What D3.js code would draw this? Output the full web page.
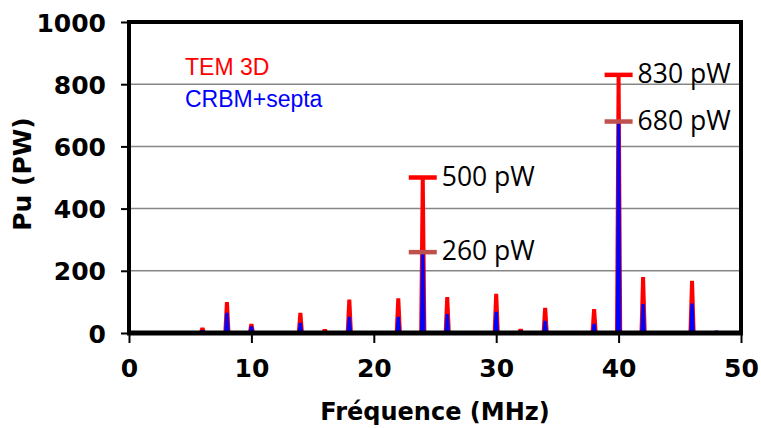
<!DOCTYPE html>
<meta charset="utf-8">
<html>
  <head>
    <style>
      body { margin: 0; background: #fff; }
      .axis text {
        font-family: "DejaVu Sans", Verdana, sans-serif;
        font-weight: bold;
        font-size: 25px;
        fill: #000;
      }
      .axis line { stroke: #000; stroke-width: 2; }
      .axisLabel {
        font-family: "DejaVu Sans", Verdana, sans-serif;
        font-weight: bold;
        font-size: 24px;
      }
      .legend {
        font-family: "Liberation Sans", Arial, sans-serif;
        font-size: 23px;
      }
      .annot {
        font-family: "Open Sans", "Segoe UI", sans-serif;
        font-size: 26.5px;
        fill: #000;
      }
    </style>
  </head>
<script src="https://d3js.org/d3.v7.min.js"></script>
<body>
<div id="chart"></div>
<script>

    // spectrum lines (MHz) and peak power (pW)
    var freqs = [6, 8, 10, 14, 16, 18, 22, 24, 26, 30, 32, 34, 38, 40, 42, 46, 48];
    var tem3d = [18, 100, 30, 65, 13, 108, 112, 500, 116, 126, 14, 81, 77, 830, 180, 168, 0];
    var crbm  = [10, 65, 22, 33, 5, 52, 52, 265, 61, 68, 8, 39, 30, 680, 93, 95, 8];

    // labelled peaks
    var annotFreq  = [24, 24, 40, 40];
    var annotValue = [500, 260, 830, 680];
    var annotText  = ["500 pW", "260 pW", "830 pW", "680 pW"];
    var annotColor = ["#ff0000", "#c0504d", "#ff0000", "#c0504d"];

    var xTicks = [0, 10, 20, 30, 40, 50];
    var yTicks = [0, 200, 400, 600, 800, 1000];
    var gridTicks = [200, 400, 600, 800];

    var seriesNames = ["TEM 3D", "CRBM+septa"];
    var seriesColors = ["#ff0000", "#0000ff"];

    var margin = {top: 22, right: 20, bottom: 95, left: 129},
        width = 761 - margin.left - margin.right,
        height = 428 - margin.top - margin.bottom;

    var svg = d3.select("#chart")
      .append("svg")
        .attr("width", 761)
        .attr("height", 428)
      .append("g")
        .attr("transform", "translate(" + margin.left + "," + margin.top + ")");

    var x = d3.scaleLinear().domain([0, 50]).range([0, width]);
    var y = d3.scaleLinear().domain([0, 1000]).range([height, 0]);

    // gridlines
    svg.selectAll(".grid")
      .data(gridTicks)
      .enter()
      .append("line")
        .attr("x1", 0).attr("x2", width)
        .attr("y1", d => y(d)).attr("y2", d => y(d))
        .attr("stroke", "#868686")
        .attr("stroke-width", 1.5);

    // axes
    var xAxis = svg.append("g")
      .attr("class", "axis")
      .attr("transform", "translate(0," + height + ")")
      .call(d3.axisBottom(x).tickValues(xTicks).tickFormat(d3.format("d")).tickSize(10).tickSizeOuter(0).tickPadding(16));
    xAxis.select(".domain").remove();

    var yAxis = svg.append("g")
      .attr("class", "axis")
      .call(d3.axisLeft(y).tickValues(yTicks).tickFormat(d3.format("d")).tickSize(8).tickSizeOuter(0).tickPadding(15));
    yAxis.select(".domain").remove();
    yAxis.selectAll("text").attr("dy", "0.36em");

    // spikes, one per line of the spectrum
    function spike(f, a, wb, wt) {
      var cx = x(f), y0 = y(0), ya = y(a);
      return "M" + (cx - wb) + "," + y0 + "L" + (cx - wt) + "," + ya +
             "L" + (cx + wt) + "," + ya + "L" + (cx + wb) + "," + y0 + "Z";
    }

    [tem3d, crbm].forEach(function(vals, k) {
      var wb = k == 0 ? 3.6 : 2.8, wt = k == 0 ? 2.0 : 1.6;
      svg.append("g")
        .selectAll("path")
        .data(freqs)
        .enter()
        .append("path")
          .attr("d", (f, i) => vals[i] > 0 ? spike(f, vals[i], wb, wt) : null)
          .attr("fill", seriesColors[k]);
    });

    // frame
    svg.append("rect")
      .attr("x", 0).attr("y", 0)
      .attr("width", width).attr("height", height)
      .attr("fill", "none")
      .attr("stroke", "#000")
      .attr("stroke-width", 4);
    svg.append("line")
      .attr("x1", -2).attr("x2", width + 2)
      .attr("y1", height).attr("y2", height)
      .attr("stroke", "#000").attr("stroke-width", 5);

    // peak markers
    svg.selectAll(".mark")
      .data(annotFreq)
      .enter()
      .append("line")
        .attr("x1", d => x(d) - 14).attr("x2", d => x(d) + 14)
        .attr("y1", (d, i) => y(annotValue[i])).attr("y2", (d, i) => y(annotValue[i]))
        .attr("stroke", (d, i) => annotColor[i])
        .attr("stroke-width", 4.5);

    svg.selectAll(".annot")
      .data(annotFreq)
      .enter()
      .append("text")
        .attr("class", "annot")
        .attr("x", d => x(d) + 19)
        .attr("y", (d, i) => y(annotValue[i]) + 8)
        .text((d, i) => annotText[i]);

    // legend
    svg.selectAll(".legend")
      .data(seriesNames)
      .enter()
      .append("text")
        .attr("class", "legend")
        .attr("x", 56)
        .attr("y", (d, i) => 53 + i * 32)
        .attr("fill", (d, i) => seriesColors[i])
        .text(d => d);

    // axis titles
    svg.append("text")
      .attr("class", "axisLabel")
      .attr("x", width / 2)
      .attr("y", height + 87)
      .style("text-anchor", "middle")
      .text("Fréquence (MHz)");

    svg.append("text")
      .attr("class", "axisLabel")
      .attr("transform", "translate(" + (31 - margin.left) + "," + (174 - margin.top) + ") rotate(-90)")
      .style("text-anchor", "middle")
      .style("font-size", "25px")
      .text("Pu (PW)");

</script>
</body>
</html>
